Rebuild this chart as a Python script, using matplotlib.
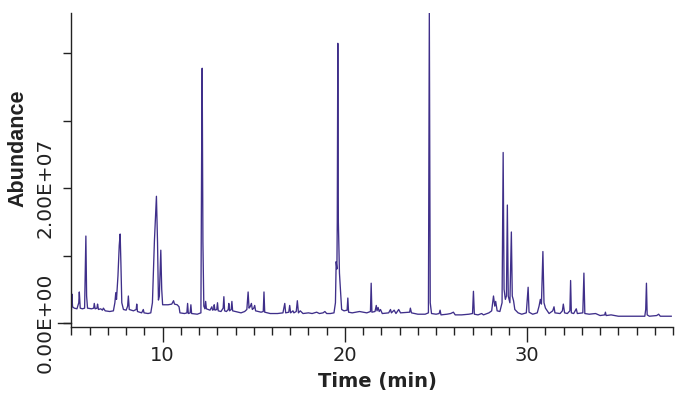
import matplotlib
matplotlib.use("Agg")
import matplotlib.pyplot as plt
from matplotlib.ticker import MultipleLocator
from matplotlib.lines import Line2D
from matplotlib.transforms import blended_transform_factory

# Chromatogram trace: retention time (min) and abundance (x 1E+07)
time_min = [
    5.00, 5.02, 5.06, 5.15, 5.30, 5.40, 5.43, 5.48, 5.60, 5.72, 5.76, 5.79, 5.83, 5.88,
    6.10, 6.22, 6.25, 6.30, 6.40, 6.43, 6.48, 6.60, 6.70, 6.75, 6.85, 7.10, 7.30, 7.38,
    7.43, 7.47, 7.55, 7.62, 7.67, 7.71, 7.76, 7.85, 8.00, 8.08, 8.12, 8.17, 8.40, 8.55,
    8.58, 8.62, 8.85, 8.94, 8.98, 9.20, 9.35, 9.44, 9.55, 9.66, 9.72, 9.77, 9.82, 9.90,
    9.95, 10.00, 10.30, 10.50, 10.60, 10.65, 10.80, 10.90, 10.95, 11.20, 11.33, 11.37,
    11.41, 11.51, 11.55, 11.59, 11.90, 12.10, 12.14, 12.17, 12.21, 12.26, 12.32, 12.36,
    12.40, 12.60, 12.70, 12.74, 12.80, 12.83, 12.87, 12.97, 13.01, 13.05, 13.20, 13.32,
    13.36, 13.40, 13.50, 13.60, 13.63, 13.67, 13.76, 13.80, 13.84, 14.00, 14.30, 14.50,
    14.62, 14.69, 14.74, 14.80, 14.87, 14.92, 15.00, 15.05, 15.10, 15.40, 15.52, 15.56,
    15.60, 15.90, 16.30, 16.60, 16.70, 16.75, 16.92, 16.97, 17.02, 17.15, 17.20, 17.33,
    17.39, 17.45, 17.55, 17.70, 18.00, 18.20, 18.45, 18.60, 18.80, 18.90, 19.00, 19.20,
    19.40, 19.48, 19.52, 19.56, 19.58, 19.61, 19.64, 19.70, 19.77, 19.82, 19.95, 20.12,
    20.16, 20.20, 20.40, 20.60, 20.80, 21.00, 21.20, 21.40, 21.44, 21.48, 21.65, 21.72,
    21.76, 21.82, 21.88, 21.95, 22.05, 22.40, 22.50, 22.55, 22.70, 22.80, 22.95, 23.05,
    23.55, 23.59, 23.65, 24.00, 24.40, 24.58, 24.63, 24.68, 24.75, 25.00, 25.17, 25.22,
    25.27, 25.60, 25.80, 25.95, 26.05, 26.40, 26.80, 27.00, 27.05, 27.10, 27.30, 27.50,
    27.60, 27.90, 28.05, 28.15, 28.22, 28.27, 28.35, 28.50, 28.62, 28.68, 28.73, 28.80,
    28.86, 28.91, 28.96, 29.05, 29.13, 29.18, 29.25, 29.32, 29.50, 29.70, 29.95, 30.05,
    30.10, 30.30, 30.55, 30.65, 30.72, 30.78, 30.86, 30.92, 31.00, 31.20, 31.40, 31.47,
    31.52, 31.80, 31.93, 31.98, 32.05, 32.20, 32.34, 32.38, 32.42, 32.55, 32.69, 32.75,
    33.05, 33.11, 33.16, 33.40, 33.75, 34.00, 34.25, 34.29, 34.33, 34.60, 35.00, 35.50,
    36.00, 36.45, 36.50, 36.54, 36.58, 36.70, 37.10, 37.21, 37.30, 37.90,
]
abundance_e7 = [
    0.20, 0.43, 0.24, 0.22, 0.21, 0.30, 0.46, 0.22, 0.21, 0.22, 0.80, 1.29, 0.40, 0.22,
    0.21, 0.22, 0.29, 0.21, 0.22, 0.28, 0.20, 0.21, 0.19, 0.22, 0.18, 0.17, 0.18, 0.30,
    0.45, 0.35, 0.70, 1.15, 1.32, 0.90, 0.30, 0.20, 0.19, 0.25, 0.40, 0.20, 0.18, 0.20,
    0.28, 0.17, 0.15, 0.20, 0.15, 0.14, 0.15, 0.30, 1.22, 1.88, 1.20, 0.34, 0.40, 1.08,
    0.50, 0.27, 0.27, 0.28, 0.33, 0.28, 0.27, 0.24, 0.15, 0.14, 0.15, 0.29,
    0.14, 0.15, 0.27, 0.14, 0.13, 0.15, 2.50, 3.78, 1.20, 0.25, 0.21, 0.32,
    0.21, 0.19, 0.24, 0.19, 0.20, 0.27, 0.19, 0.20, 0.30, 0.18, 0.17, 0.22,
    0.39, 0.18, 0.17, 0.20, 0.29, 0.18, 0.20, 0.32, 0.18, 0.17, 0.15, 0.17,
    0.20, 0.46, 0.22, 0.24, 0.29, 0.20, 0.22, 0.26, 0.18, 0.16, 0.17, 0.46,
    0.16, 0.14, 0.14, 0.15, 0.29, 0.15, 0.16, 0.26, 0.15, 0.18, 0.15, 0.17,
    0.33, 0.15, 0.18, 0.14, 0.15, 0.14, 0.16, 0.14, 0.15, 0.17, 0.14, 0.14,
    0.15, 0.30, 0.91, 0.80, 1.50, 4.15, 1.50, 0.74, 0.42, 0.20, 0.18, 0.19,
    0.37, 0.16, 0.15, 0.16, 0.17, 0.16, 0.15, 0.17, 0.59, 0.16, 0.17, 0.26,
    0.18, 0.23, 0.17, 0.20, 0.14, 0.15, 0.20, 0.15, 0.19, 0.14, 0.20, 0.15,
    0.16, 0.22, 0.15, 0.13, 0.13, 0.15, 4.60, 0.30, 0.14, 0.13, 0.14, 0.19,
    0.12, 0.13, 0.14, 0.16, 0.12, 0.12, 0.13, 0.14, 0.47, 0.13, 0.12, 0.14,
    0.12, 0.15, 0.18, 0.40, 0.25, 0.32, 0.18, 0.17, 0.30, 2.53, 0.50, 0.35,
    0.40, 1.75, 0.40, 0.30, 1.35, 0.40, 0.33, 0.20, 0.15, 0.13, 0.15, 0.53,
    0.16, 0.13, 0.15, 0.25, 0.35, 0.28, 1.06, 0.30, 0.22, 0.14, 0.18, 0.24,
    0.15, 0.14, 0.18, 0.28, 0.15, 0.14, 0.18, 0.63, 0.15, 0.14, 0.21, 0.14,
    0.15, 0.74, 0.14, 0.13, 0.14, 0.11, 0.12, 0.16, 0.11, 0.12, 0.10, 0.10,
    0.10, 0.10, 0.20, 0.59, 0.12, 0.10, 0.11, 0.13, 0.10, 0.10,
]

y_ticks = [0, 1e7, 2e7, 3e7, 4e7]
y_tick_labels = ["0.00E+00", "", "2.00E+07", "", ""]
x_ticks = [10, 20, 30]
x_tick_labels = ["10", "20", "30"]

fig = plt.figure(figsize=(6.84, 3.97), dpi=100)
ax = fig.add_axes([0.1045, 0.1763, 0.8795, 0.791])

ax.plot(time_min, [v * 1e7 for v in abundance_e7], color="#3f2f8a", lw=0.95)

ax.set_xlim(5, 38)
ax.set_ylim(-0.06e7, 4.6e7)

for s in ("top", "right"):
    ax.spines[s].set_visible(False)
for s in ("left", "bottom"):
    ax.spines[s].set_color("#222222")
    ax.spines[s].set_linewidth(1.0)

ax.set_xticks(x_ticks)
ax.set_xticklabels(x_tick_labels)
ax.xaxis.set_minor_locator(MultipleLocator(1))
ax.tick_params(axis="x", which="major", length=11, width=1, color="#222222",
               labelsize=14, pad=3, labelcolor="#222222")
ax.tick_params(axis="x", which="minor", length=6, width=1, color="#222222")

ax.set_yticks(y_ticks)
ax.set_yticklabels(y_tick_labels, rotation=90, va="center")
ax.tick_params(axis="y", which="major", length=6, width=1, color="#222222",
               labelsize=14.5, pad=6, labelcolor="#222222")

# longer tick mark at the zero line, as in the reference
trans = blended_transform_factory(ax.transAxes, ax.transData)
ax.add_line(Line2D([-13.5 / (0.8795 * 684), 0], [0, 0], transform=trans,
                   color="#222222", lw=1.0, clip_on=False))

fig.text(17.5 / 684, 1 - 148 / 397, "Abundance", rotation=90, ha="center", va="center",
         fontsize=15.5, fontweight="bold", family="Liberation Sans", color="#222222")
fig.text(377 / 684, 1 - 382 / 397, "Time (min)", ha="center", va="center",
         fontsize=14, fontweight="bold", color="#222222")

fig.savefig("out.png", dpi=100)
